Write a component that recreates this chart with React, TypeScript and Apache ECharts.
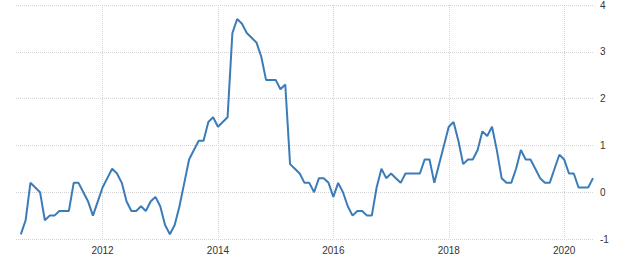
import React, { useEffect, useRef } from "react";
import * as echarts from "echarts";

// Monthly categories from Jul 2010 to Jul 2020
const startYear = 2010;
const startMonth = 7;
const monthCount = 121;
const categories: string[] = [];
for (let i = 0; i < monthCount; i++) {
  const m = startMonth - 1 + i;
  const y = startYear + Math.floor(m / 12);
  const mm = (m % 12) + 1;
  categories.push(`${y}-${mm < 10 ? "0" + mm : mm}`);
}

// Values Aug 2010 .. Jul 2020 (Jul 2010 has no reading)
const values2010: (number | null)[] = [null, -0.9, -0.6, 0.2, 0.1, 0.0];
const values2011 = [-0.6, -0.5, -0.5, -0.4, -0.4, -0.4, 0.2, 0.2, 0.0, -0.2, -0.5, -0.2];
const values2012 = [0.1, 0.3, 0.5, 0.4, 0.2, -0.2, -0.4, -0.4, -0.3, -0.4, -0.2, -0.1];
const values2013 = [-0.3, -0.7, -0.9, -0.7, -0.3, 0.2, 0.7, 0.9, 1.1, 1.1, 1.5, 1.6];
const values2014 = [1.4, 1.5, 1.6, 3.4, 3.7, 3.6, 3.4, 3.3, 3.2, 2.9, 2.4, 2.4];
const values2015 = [2.4, 2.2, 2.3, 0.6, 0.5, 0.4, 0.2, 0.2, 0.0, 0.3, 0.3, 0.2];
const values2016 = [-0.1, 0.2, 0.0, -0.3, -0.5, -0.4, -0.4, -0.5, -0.5, 0.1, 0.5, 0.3];
const values2017 = [0.4, 0.3, 0.2, 0.4, 0.4, 0.4, 0.4, 0.7, 0.7, 0.2, 0.6, 1.0];
const values2018 = [1.4, 1.5, 1.1, 0.6, 0.7, 0.7, 0.9, 1.3, 1.2, 1.4, 0.9, 0.3];
const values2019 = [0.2, 0.2, 0.5, 0.9, 0.7, 0.7, 0.5, 0.3, 0.2, 0.2, 0.5, 0.8];
const values2020 = [0.7, 0.4, 0.4, 0.1, 0.1, 0.1, 0.3];

const seriesValues: (number | null)[] = [
  ...values2010,
  ...values2011,
  ...values2012,
  ...values2013,
  ...values2014,
  ...values2015,
  ...values2016,
  ...values2017,
  ...values2018,
  ...values2019,
  ...values2020,
];

const yTicks = { min: -1, max: 4, interval: 1 };
const labelYears = ["2012", "2014", "2016", "2018", "2020"];

const isLabelCat = (value: string) =>
  value.endsWith("-01") && labelYears.includes(value.slice(0, 4));

export default function App() {
  const ref = useRef<HTMLDivElement>(null);
  useEffect(() => {
    if (!ref.current) return;
    const chart = echarts.init(ref.current, undefined, { renderer: "svg" });
    chart.setOption({
      animation: false,
      backgroundColor: "#ffffff",
      grid: { left: 16, right: 47, top: 5, bottom: 27, containLabel: false },
      xAxis: {
        type: "category",
        data: categories,
        boundaryGap: false,
        axisLine: { show: false },
        axisTick: { show: false },
        axisLabel: {
          interval: (_i: number, v: string) => isLabelCat(v),
          formatter: (v: string) => v.slice(0, 4),
          color: "#333333",
          fontSize: 10,
          fontFamily: "Liberation Sans, Arial, sans-serif",
          margin: 6,
        },
        splitLine: {
          show: true,
          interval: (_i: number, v: string) => isLabelCat(v),
          lineStyle: { color: "#d4d4d4", type: [1, 1], width: 1 },
        },
      },
      yAxis: {
        type: "value",
        position: "right",
        min: yTicks.min,
        max: yTicks.max,
        interval: yTicks.interval,
        axisLine: { show: false },
        axisTick: { show: false },
        axisLabel: {
          color: "#333333",
          fontSize: 10,
          fontFamily: "Liberation Sans, Arial, sans-serif",
          margin: 7,
        },
        splitLine: {
          show: true,
          lineStyle: { color: "#d4d4d4", type: [1, 1], width: 1 },
        },
      },
      series: [
        {
          type: "line",
          data: seriesValues,
          showSymbol: false,
          symbol: "none",
          connectNulls: false,
          lineStyle: { color: "#3b7cb8", width: 2 },
          itemStyle: { color: "#3b7cb8" },
        },
      ],
    });
    return () => chart.dispose();
  }, []);
  return (
    <div
      ref={ref}
      style={{ position: "fixed", left: 0, top: 0, width: 640, height: 266 }}
    />
  );
}
